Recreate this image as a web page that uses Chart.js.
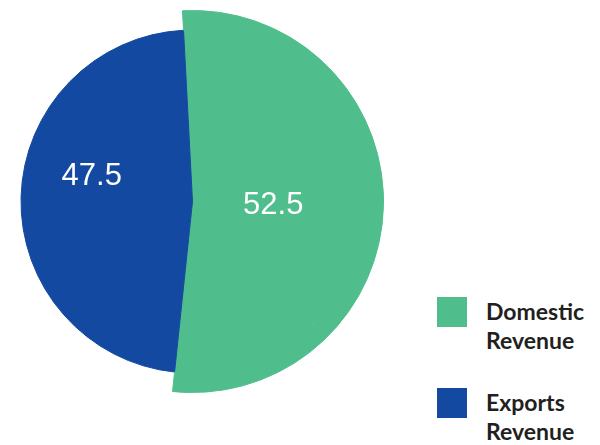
<!DOCTYPE html>
<html>
<head>
<meta charset="utf-8">
<script src="https://cdn.jsdelivr.net/npm/chart.js@4"></script>
<style>
  html, body { margin: 0; padding: 0; background: #fff; }
  body { width: 600px; height: 445px; position: relative; overflow: hidden; }
  #chartBox { position: absolute; left: 1px; top: 10px; width: 383px; height: 383px; }
  #legend { position: absolute; left: 437px; top: 297px; font-family: Lato, sans-serif; font-weight: 700;
            font-size: 23px; line-height: 29px; color: #231f20; }
  .item { display: flex; align-items: flex-start; margin-bottom: 33px; }
  .box { width: 30px; height: 30px; margin-right: 19px; }
</style>
</head>
<body>
<div id="chartBox"><canvas id="pieChart"></canvas></div>
<div id="legend"></div>
<script>
const categories = ["Domestic Revenue", "Exports Revenue"];
const legendLines = [["Domestic", "Revenue"], ["Exports", "Revenue"]];
const values = [52.5, 47.5];
const colors = ["#50be8c", "#1349a0"];

// legend en HTML
const legend = document.getElementById("legend");
categories.forEach((c, i) => {
  const item = document.createElement("div");
  item.className = "item";
  item.innerHTML = '<div class="box" style="background:' + colors[i] + '"></div><div>' +
    legendLines[i].join("<br>") + "</div>";
  legend.appendChild(item);
});

// etiquetas de valor dentro de la torta
const valueLabels = {
  id: "valueLabels",
  afterDatasetsDraw(chart, args, opts) {
    const ctx = chart.ctx;
    const meta = chart.getDatasetMeta(1);
    ctx.save();
    ctx.fillStyle = "#fff";
    ctx.font = "31px 'Liberation Sans', Arial, sans-serif";
    ctx.textAlign = "center";
    ctx.textBaseline = "alphabetic";
    meta.data.forEach((arc, i) => {
      const p = arc.tooltipPosition();
      const o = opts.shift[i];
      ctx.fillText(String(values[i]), p.x + o[0], p.y + o[1]);
    });
    ctx.restore();
  }
};

new Chart(document.getElementById("pieChart").getContext("2d"), {
  type: "pie",
  data: {
    labels: categories,
    datasets: [
      {
        data: values,
        backgroundColor: [colors[0], "rgba(0,0,0,0)"],
        borderColor: [colors[0], "rgba(0,0,0,0)"],
        borderWidth: 1,
        weight: 19.5
      },
      {
        data: values,
        backgroundColor: colors,
        borderColor: colors,
        borderWidth: 1,
        weight: 171.5
      }
    ]
  },
  plugins: [valueLabels],
  options: {
    responsive: true,
    maintainAspectRatio: false,
    animation: false,
    rotation: -3,
    hoverOffset: 0,
    layout: { padding: 0 },
    events: [],
    plugins: {
      legend: { display: false },
      tooltip: { enabled: false },
      valueLabels: { shift: [[-5, 10], [-15, -14]] }
    }
  }
});
</script>
</body>
</html>
